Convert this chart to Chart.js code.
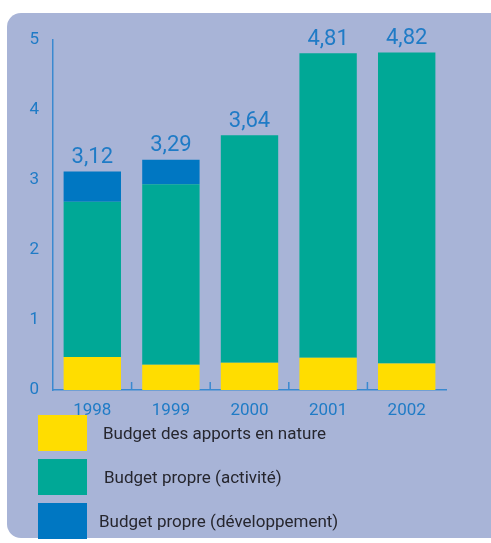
<!DOCTYPE html>
<html>
<head>
<meta charset="utf-8">
<script src="https://cdn.jsdelivr.net/npm/chart.js@4"></script>
<style>
  html, body { margin:0; padding:0; background:#ffffff; }
  #wrap { position:relative; width:491px; height:543px; overflow:hidden; }
  #panel { position:absolute; left:7px; top:13px; width:500px; height:525px; background:#a8b4d7; border-radius:14px; }
  #c { position:absolute; left:0; top:0; }
  #legend { position:absolute; left:38px; top:415px; font-family:Roboto, sans-serif; font-size:17px; color:#26262e; }
  .item { display:flex; align-items:center; height:36px; margin-bottom:8px; }
  .box { width:49px; height:36px; flex:none; }
</style>
</head>
<body>
<div id="wrap">
  <div id="panel"></div>
  <canvas id="c" width="491" height="543"></canvas>
  <div id="legend"></div>
</div>
<script>
const categories = ["1998", "1999", "2000", "2001", "2002"];
const apportsNature = [0.47, 0.36, 0.39, 0.46, 0.38];
const propreActivite = [2.22, 2.58, 3.25, 4.35, 4.44];
const propreDeveloppement = [0.43, 0.35, 0, 0, 0];
const totals = [3.12, 3.29, 3.64, 4.81, 4.82];
const seriesLabels = ["Budget des apports en nature", "Budget propre (activité)", "Budget propre (développement)"];
const seriesColors = ["#ffdd00", "#00a896", "#0077c2"];
const yTicks = [0, 1, 2, 3, 4, 5];

const axisBlue = "#3a89d0";
const labelBlue = "#1f7bc6";

const boundaryTicks = {
  id: 'boundaryTicks',
  afterDatasetsDraw(chart) {
    const x = chart.scales.x, y = chart.scales.y;
    const ctx = chart.ctx;
    ctx.save();
    ctx.strokeStyle = axisBlue;
    ctx.lineWidth = 1.5;
    const bottom = y.getPixelForValue(0);
    for (let i = 1; i < categories.length; i++) {
      const bx = (x.getPixelForValue(i - 1) + x.getPixelForValue(i)) / 2;
      ctx.beginPath();
      ctx.moveTo(bx, bottom);
      ctx.lineTo(bx, bottom - 8);
      ctx.stroke();
    }
    // total labels
    ctx.fillStyle = labelBlue;
    ctx.font = '22px Roboto, sans-serif';
    ctx.textAlign = 'center';
    ctx.textBaseline = 'bottom';
    totals.forEach((t, i) => {
      ctx.fillText(t.toFixed(2).replace('.', ','), x.getPixelForValue(i), y.getPixelForValue(t) - 3);
    });
    ctx.restore();
  }
};

new Chart(document.getElementById('c'), {
  type: 'bar',
  data: {
    labels: categories,
    datasets: [
      { label: seriesLabels[0], data: apportsNature, backgroundColor: seriesColors[0] },
      { label: seriesLabels[1], data: propreActivite, backgroundColor: seriesColors[1] },
      { label: seriesLabels[2], data: propreDeveloppement, backgroundColor: seriesColors[2] }
    ]
  },
  options: {
    responsive: false,
    animation: false,
    layout: { padding: { left: 0, top: 40, right: 45, bottom: 128 } },
    datasets: { bar: { barPercentage: 0.73, categoryPercentage: 1 } },
    plugins: { legend: { display: false }, tooltip: { enabled: false } },
    scales: {
      x: {
        stacked: true,
        grid: { display: false },
        border: { display: true, color: axisBlue, width: 1.5 },
        ticks: { color: labelBlue, font: { family: 'Roboto', size: 17 }, padding: 3 },
        afterFit(s) { s.height = 25; }
      },
      y: {
        stacked: true,
        min: 0, max: 5,
        grid: { display: false },
        border: { display: true, color: axisBlue, width: 1.5 },
        afterBuildTicks(s) { s.ticks = yTicks.map(v => ({ value: v })); },
        ticks: { color: labelBlue, font: { family: 'Roboto', size: 17 }, padding: 6 },
        afterFit(s) { s.width = 53; }
      }
    }
  },
  plugins: [boundaryTicks]
});

const legend = document.getElementById('legend');
const textOffsets = [16, 17, 12];
seriesLabels.forEach((lab, i) => {
  const item = document.createElement('div');
  item.className = 'item';
  const box = document.createElement('div');
  box.className = 'box';
  box.style.background = seriesColors[i];
  const txt = document.createElement('span');
  txt.textContent = lab;
  txt.style.marginLeft = textOffsets[i] + 'px';
  item.appendChild(box);
  item.appendChild(txt);
  legend.appendChild(item);
});
</script>
</body>
</html>
